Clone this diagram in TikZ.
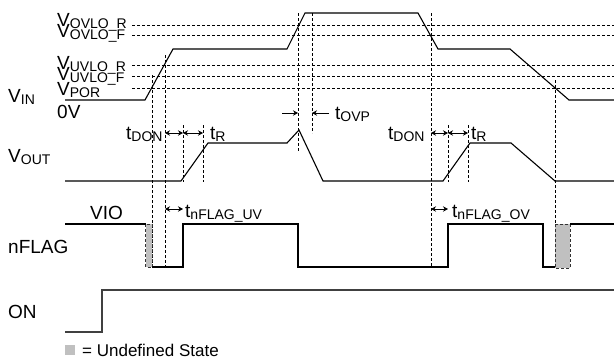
\documentclass[tikz,border=0pt]{standalone}
\usepackage{fontspec}
\setmainfont{Liberation Sans}
\usetikzlibrary{arrows.meta, calc}
\definecolor{undefgray}{RGB}{192,192,192}
\definecolor{ongray}{RGB}{64,64,64}
\definecolor{edgegray}{RGB}{50,50,50}
\newcommand{\sigsub}[1]{\raisebox{-2pt}{\fontsize{14}{14}\selectfont #1}}

\begin{document}
\begin{tikzpicture}[x=1pt, y=-1pt,
    wave/.style={line width=1.1pt},
    onwave/.style={line width=1.5pt, color=ongray},
    guide/.style={line width=0.6pt, dash pattern=on 3pt off 2pt},
    gap/.style={{Stealth[length=5pt,width=5.5pt]}-{Stealth[length=5pt,width=5.5pt]}, line width=0.8pt},
    push/.style={-{Stealth[length=5pt,width=5.5pt]}, line width=0.8pt},
    lbl/.style={inner sep=0pt, anchor=base west, font=\fontsize{19}{19}\selectfont},
    undef/.style={fill=undefgray, draw=edgegray, dash pattern=on 3pt off 2pt, line width=1pt}
]
\useasboundingbox (0,0) rectangle (614,359);
% time markers
\coordinate (uvp) at (152,0);
\coordinate (uvr) at (165,0);
\coordinate (don) at (183,0);
\coordinate (rise) at (203,0);
\coordinate (ovr) at (298,0);
\coordinate (ovp) at (312,0);
\coordinate (ovf) at (431,0);
\coordinate (don2) at (448,0);
\coordinate (rise2) at (468,0);
\coordinate (por2) at (555,0);
% rows
\coordinate (ydon) at (0,133);
\coordinate (yovp) at (0,113);
\coordinate (yflag) at (0,209);

% threshold levels
\foreach \name/\sub/\ly/\by in {ovr/OVLO\_R/25/26, ovf/OVLO\_F/35/37.5, uvr/UVLO\_R/65/69, uvf/UVLO\_F/76/80, por/POR/88/95} {
    \draw[guide] (132,\ly) -- (614,\ly);
    \node[lbl] (lv-\name) at (57,\by) {V\sigsub{\sub}};
}
\node[lbl] (zero) at (57,118) {0V};

% guide lines
\foreach \t/\a/\b in {uvp/75/267, uvr/55/267, don/125/182, rise/125/182, ovr/13/152, ovp/13/133, ovf/13/267, don2/125/182, rise2/125/182, por2/80/224} {
    \draw[guide] ($(\t)+(0,\a)$) -- ($(\t)+(0,\b)$);
}

% signal names
\node[lbl] (vin) at (8,102) {V\sigsub{IN}};
\node[lbl] (vout) at (8,162) {V\sigsub{OUT}};
\node[lbl] (nflag) at (8,253) {nFLAG};
\node[lbl] (on) at (8,318) {ON};
\node[lbl] (vio) at (90,219) {VIO};

% waveforms
\draw[wave] (65,100) -- (145,100) -- (173,49) -- (287,49) -- (305,13) -- (418,13) -- (438,49) -- (510,49) -- (569,100) -- (614,100);
\draw[wave] (65,181) -- (181,181) -- (208,143) -- (287,143) -- (299,130) -- (323,181) -- (443,181) -- (470,143) -- (511,143) -- (555,181) -- (614,181);
\draw[undef] (145.5,224) rectangle (152,267);
\draw[undef] (555,224) rectangle (570,268);
\draw[wave] (65,224) -- (145.5,224);
\draw[wave] (152,267) -- (183,267) -- (183,224) -- (298,224) -- (298,267) -- (448,267) -- (448,224) -- (543,224) -- (543,267) -- (555,267);
\draw[wave] (570,224) -- (614,224);
\draw[onwave] (65,332) -- (102,332) -- (102,290) -- (614,290);

% timing arrows
\draw[gap] (uvr |- ydon) -- (don |- ydon);
\draw[gap] (don |- ydon) -- (rise |- ydon);
\draw[gap] (ovf |- ydon) -- (don2 |- ydon);
\draw[gap] (don2 |- ydon) -- (rise2 |- ydon);
\draw[gap] (uvr |- yflag) -- (don |- yflag);
\draw[gap] (ovf |- yflag) -- (don2 |- yflag);
\draw[push] ($(ovr |- yovp)+(-16,0)$) -- (ovr |- yovp);
\draw[push] ($(ovp |- yovp)+(17,0)$) -- (ovp |- yovp);

\node[lbl] (tdon) at (126,139) {t\sigsub{DON}};
\node[lbl] (tr) at (210,139) {t\sigsub{R}};
\node[lbl] (tdon2) at (388,139) {t\sigsub{DON}};
\node[lbl] (tr2) at (471,139) {t\sigsub{R}};
\node[lbl] (tovp) at (335,119) {t\sigsub{OVP}};
\node[lbl] (tuv) at (185,217) {t\sigsub{nFLAG\_UV}};
\node[lbl] (tov) at (452,217) {t\sigsub{nFLAG\_OV}};

% legend
\node[fill=undefgray, minimum size=10pt, inner sep=0pt] (key) at (70,350) {};
\node[lbl, font=\fontsize{17}{17}\selectfont] (keytext) at (82,356) {= Undefined State};
\end{tikzpicture}
\end{document}
